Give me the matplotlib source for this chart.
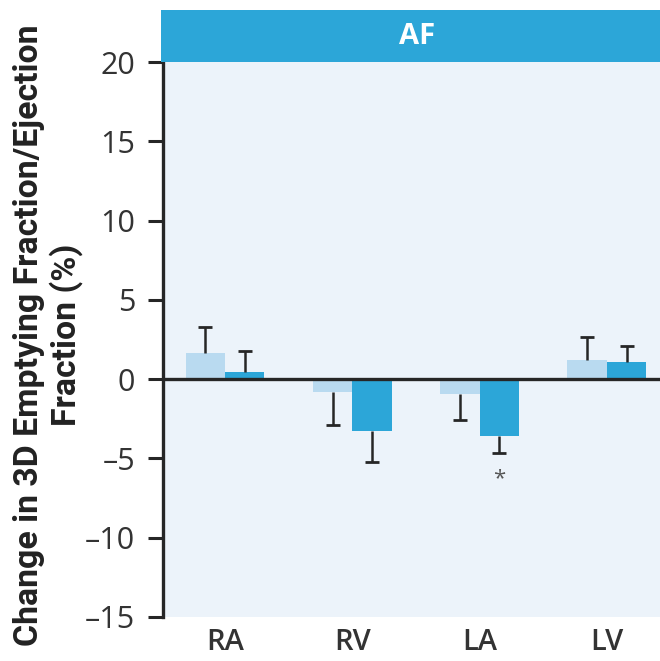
import matplotlib
matplotlib.use("Agg")
import matplotlib.pyplot as plt
from matplotlib import font_manager
import numpy as np

categories = ["RA", "RV", "LA", "LV"]
light_vals = [1.68, -0.8, -0.95, 1.2]
light_err = [1.62, 2.1, 1.65, 1.47]
dark_vals = [0.42, -3.3, -3.57, 1.05]
dark_err = [1.33, 1.95, 1.08, 1.01]
yticks = [-15, -10, -5, 0, 5, 10, 15, 20]
panel_title = "AF"
ylabel = "Change in 3D Emptying Fraction/Ejection\nFraction (%)"

names = {f.name for f in font_manager.fontManager.ttflist}
labfont = "Roboto" if "Roboto" in names else "DejaVu Sans"
tickfont = "Open Sans" if "Open Sans" in names else "DejaVu Sans"

LIGHT = "#b9daf0"
DARK = "#2ca6d8"
BG = "#ecf3fa"
INK = "#262626"

W, H = 660, 661
fig = plt.figure(figsize=(W / 100, H / 100), dpi=100)
ax = fig.add_axes([163 / W, 44 / H, (673 - 163) / W, (617 - 62) / H])
ax.set_facecolor(BG)

x = np.arange(len(categories))
bw = 0.31
off = 0.155

ax.bar(x - off, light_vals, bw, color=LIGHT, zorder=2)
ax.bar(x + off, dark_vals, bw, color=DARK, zorder=2)

def one_sided(xpos, vals, errs):
    vals = np.asarray(vals); errs = np.asarray(errs)
    ends = vals + np.sign(vals) * errs
    ax.vlines(xpos, vals, ends, color=INK, lw=1.8, zorder=3)
    ax.plot(xpos, ends, ls="none", marker="_", markersize=10, mew=2.0, color=INK, zorder=3)
    return ends

one_sided(x - off, light_vals, light_err)
dark_ends = one_sided(x + off, dark_vals, dark_err)
ax.axhline(0, color=INK, lw=2.4, zorder=4)

# significance marker
ax.text(x[2] + off, dark_ends[2] - 1.6, "*", ha="center", va="center",
        fontsize=16, color="#555555", family=tickfont, zorder=5)

ax.set_xlim(-0.487, 3.52)
ax.set_ylim(-15, 20)
ax.set_yticks(yticks)
ax.set_yticklabels([str(t).replace("-", "\u2013") for t in yticks], family=tickfont,
                   fontsize=22, color="#333333")
ax.set_xticks(x)
ax.set_xticklabels(categories, family=tickfont, fontsize=21, fontweight="semibold",
                   color="#333333")
ax.tick_params(axis="x", length=0, pad=8)
ax.tick_params(axis="y", length=11, width=2.2, color=INK, pad=9)
for s in ["top", "right", "bottom"]:
    ax.spines[s].set_visible(False)
ax.spines["left"].set_linewidth(2.4)
ax.spines["left"].set_color(INK)

# header strip
sax = fig.add_axes([161 / W, (H - 62) / H, (673 - 161) / W, 52 / H])
sax.set_facecolor(DARK)
sax.set_xticks([]); sax.set_yticks([])
for s in sax.spines.values():
    s.set_visible(False)
sax.text(0.5, 0.5, panel_title, ha="center", va="center", color="white",
         fontsize=21, fontweight="bold", family=tickfont, transform=sax.transAxes)

# y label, scaled to span the same height as in the reference
t = fig.text(48 / W, 1 - 335 / H, ylabel, rotation=90, ha="center", va="center",
             fontsize=20, fontweight="bold", family=labfont, color="#222222",
             linespacing=1.12, multialignment="center")
fig.canvas.draw()
r = fig.canvas.get_renderer()
bb = t.get_window_extent(r)
t.set_fontsize(20 * 622 / bb.height)

fig.savefig("out.png", dpi=100, facecolor="white")
